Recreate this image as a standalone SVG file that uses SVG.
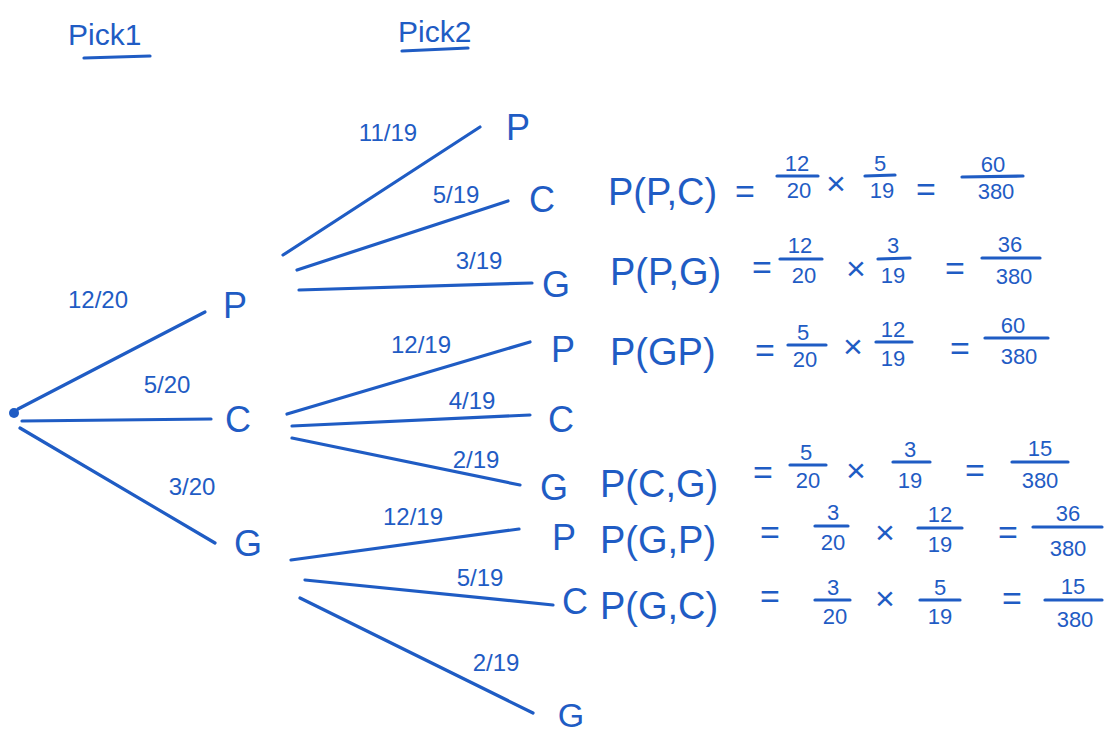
<svg xmlns="http://www.w3.org/2000/svg" width="1105" height="734" viewBox="0 0 1105 734">
<style>
text{font-family:"Liberation Sans","DejaVu Sans",sans-serif;fill:#1f5cc4}
.node{font-size:36px;text-anchor:middle}
.lbl{font-size:24px;text-anchor:middle}
.hdr{font-size:30px}
.eq{font-size:38px}
.op{font-size:34px;text-anchor:middle}
.fr{font-size:22px;text-anchor:middle}
line,path{stroke:#1f5cc4;stroke-width:3.2;stroke-linecap:round;fill:none}
</style>
<rect width="1105" height="734" fill="#fff"/>
<g id="headers">
<text class="hdr" x="68" y="45">Pick1</text>
<line x1="84" y1="58" x2="150" y2="56"/>
<text class="hdr" x="398" y="42">Pick2</text>
<line x1="402" y1="51" x2="468" y2="48"/>
</g>
<g id="root"><circle cx="14" cy="413" r="5" fill="#1f5cc4"/></g>
<g id="n1P"><text class="node" x="235" y="318">P</text></g>
<g id="n1C"><text class="node" x="238" y="432">C</text></g>
<g id="n1G"><text class="node" x="248" y="556">G</text></g>
<g id="nPP"><text class="node" x="518" y="140">P</text></g>
<g id="nPC"><text class="node" x="542" y="212">C</text></g>
<g id="nPG"><text class="node" x="556" y="297">G</text></g>
<g id="nCP"><text class="node" x="563" y="362">P</text></g>
<g id="nCC"><text class="node" x="561" y="432">C</text></g>
<g id="nCG"><text class="node" x="554" y="500">G</text></g>
<g id="nGP"><text class="node" x="564" y="550">P</text></g>
<g id="nGC"><text class="node" x="575" y="614">C</text></g>
<g id="nGG"><text class="node" x="571" y="727" style="font-size:34px">G</text></g>
<g id="connectors">
<line x1="18" y1="409" x2="205" y2="312"/>
<line x1="22" y1="421" x2="211" y2="419"/>
<line x1="20" y1="428" x2="215" y2="543"/>
<line x1="283" y1="255" x2="480" y2="127"/>
<line x1="297" y1="270" x2="508" y2="201"/>
<line x1="299" y1="290" x2="532" y2="283"/>
<line x1="287" y1="414" x2="530" y2="342"/>
<line x1="292" y1="426" x2="530" y2="415"/>
<line x1="292" y1="438" x2="520" y2="485"/>
<line x1="291" y1="560" x2="519" y2="529"/>
<line x1="305" y1="580" x2="553" y2="605"/>
<line x1="300" y1="598" x2="533" y2="713"/>
<text class="lbl" x="98" y="308">12/20</text>
<text class="lbl" x="167" y="393">5/20</text>
<text class="lbl" x="192" y="495">3/20</text>
<text class="lbl" x="388" y="141">11/19</text>
<text class="lbl" x="456" y="203">5/19</text>
<text class="lbl" x="479" y="269">3/19</text>
<text class="lbl" x="421" y="353">12/19</text>
<text class="lbl" x="472" y="409">4/19</text>
<text class="lbl" x="476" y="468">2/19</text>
<text class="lbl" x="413" y="525">12/19</text>
<text class="lbl" x="480" y="586">5/19</text>
<text class="lbl" x="496" y="671">2/19</text>
</g>
<g id="equations">
<text class="eq" x="608" y="205">P(P,C)</text>
<text class="op" x="745" y="203">=</text>
<text class="fr" x="797" y="171">12</text><line x1="777" y1="176" x2="818" y2="176"/><text class="fr" x="799" y="198">20</text>
<text class="op" x="836" y="195">×</text>
<text class="fr" x="880" y="171">5</text><line x1="865" y1="176" x2="895" y2="175"/><text class="fr" x="882" y="198">19</text>
<text class="op" x="926" y="201">=</text>
<text class="fr" x="993" y="172">60</text><line x1="962" y1="177" x2="1023" y2="176"/><text class="fr" x="996" y="199">380</text>

<text class="eq" x="610" y="285">P(P,G)</text>
<text class="op" x="762" y="279">=</text>
<text class="fr" x="800" y="253">12</text><line x1="780" y1="259" x2="822" y2="259"/><text class="fr" x="804" y="283">20</text>
<text class="op" x="856" y="280">×</text>
<text class="fr" x="893" y="253">3</text><line x1="878" y1="259" x2="910" y2="258"/><text class="fr" x="893" y="283">19</text>
<text class="op" x="955" y="280">=</text>
<text class="fr" x="1010" y="252">36</text><line x1="982" y1="258" x2="1040" y2="258"/><text class="fr" x="1014" y="284">380</text>

<text class="eq" x="610" y="365">P(GP)</text>
<text class="op" x="765" y="362">=</text>
<text class="fr" x="803" y="340">5</text><line x1="788" y1="345" x2="826" y2="345"/><text class="fr" x="805" y="367">20</text>
<text class="op" x="853" y="358">×</text>
<text class="fr" x="893" y="337">12</text><line x1="876" y1="342" x2="912" y2="342"/><text class="fr" x="893" y="366">19</text>
<text class="op" x="960" y="360">=</text>
<text class="fr" x="1013" y="333">60</text><line x1="985" y1="338" x2="1048" y2="338"/><text class="fr" x="1019" y="364">380</text>

<text class="eq" x="600" y="497">P(C,G)</text>
<text class="op" x="763" y="484">=</text>
<text class="fr" x="806" y="460">5</text><line x1="790" y1="465" x2="826" y2="465"/><text class="fr" x="808" y="488">20</text>
<text class="op" x="856" y="482">×</text>
<text class="fr" x="910" y="457">3</text><line x1="893" y1="462" x2="930" y2="462"/><text class="fr" x="910" y="488">19</text>
<text class="op" x="975" y="482">=</text>
<text class="fr" x="1040" y="456">15</text><line x1="1012" y1="462" x2="1068" y2="462"/><text class="fr" x="1040" y="488">380</text>

<text class="eq" x="600" y="553">P(G,P)</text>
<text class="op" x="770" y="544">=</text>
<text class="fr" x="833" y="520">3</text><line x1="815" y1="526" x2="848" y2="526"/><text class="fr" x="833" y="550">20</text>
<text class="op" x="885" y="544">×</text>
<text class="fr" x="940" y="522">12</text><line x1="918" y1="528" x2="962" y2="528"/><text class="fr" x="940" y="552">19</text>
<text class="op" x="1008" y="544">=</text>
<text class="fr" x="1068" y="521">36</text><line x1="1033" y1="527" x2="1102" y2="527"/><text class="fr" x="1068" y="556">380</text>

<text class="eq" x="600" y="619">P(G,C)</text>
<text class="op" x="770" y="608">=</text>
<text class="fr" x="833" y="595">3</text><line x1="815" y1="600" x2="850" y2="600"/><text class="fr" x="835" y="624">20</text>
<text class="op" x="885" y="610">×</text>
<text class="fr" x="940" y="595">5</text><line x1="920" y1="600" x2="960" y2="600"/><text class="fr" x="940" y="624">19</text>
<text class="op" x="1012" y="610">=</text>
<text class="fr" x="1073" y="594">15</text><line x1="1045" y1="600" x2="1102" y2="600"/><text class="fr" x="1075" y="627">380</text>
</g>
</svg>
